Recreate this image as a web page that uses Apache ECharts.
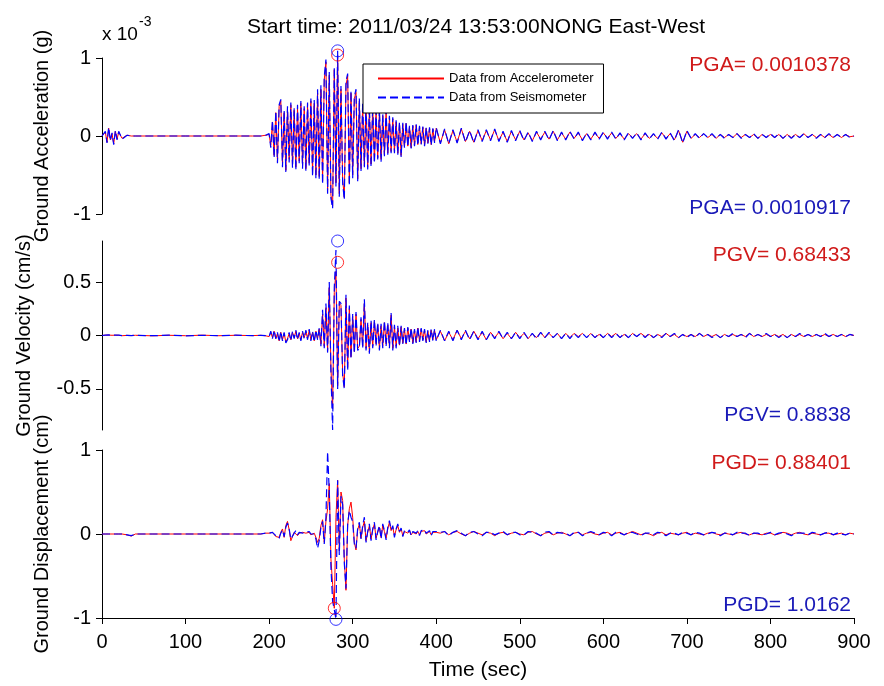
<!DOCTYPE html>
<html>
<head>
<meta charset="utf-8">
<title>NONG East-West</title>
<script src="https://cdn.jsdelivr.net/npm/echarts@6.0.0/dist/echarts.min.js"></script>
<style>
  html, body { margin: 0; padding: 0; background: #fff; }
  #root { width: 884px; height: 686px; }
</style>
</head>
<body>
<div id="root"></div>
<script>
(function () {
  const FONT = '"Liberation Sans", Arial, sans-serif';
  const RED = '#ff0000';
  const BLUE = '#0000ff';

  // sample times (s): sparse before the arrival, 2 s through the strong motion, 5 s in the coda
  function steps(from, to, dt) {
    const out = [];
    for (let t = from; t <= to; t += dt) out.push(t);
    return out;
  }
  const tHead = [0, 4, 6, 8, 10, 12, 14, 16, 18, 20, 24, 30, 35, 40, 60, 80, 100, 120, 140, 160, 180, 190, 196];
  const times = tHead.concat(steps(200, 400, 2), steps(405, 900, 5));

  // acceleration, x 10^-3 g
  const accAccel = [
    0, 0.05, -0.08, 0.1, -0.05, 0.03, -0.1, 0.06, -0.04, 0.05, -0.03, 0.01, 0, 0, 0, 0, 0, 0, 0, 0, 0, 0, 0.01,
    0.02, -0.12, 0.18, -0.25, 0.3, -0.32, 0.38, 0.45, -0.36, 0.3,
    -0.44, 0.35, -0.3, 0.4, -0.38, 0.33, -0.4, 0.36, -0.32, 0.42,
    -0.38, 0.35, -0.42, 0.4, -0.35, 0.45, -0.48, 0.42, -0.5, 0.55,
    -0.52, 0.6, -0.58, 0.72, 0.95, -0.7, 0.78, -0.76, -0.9, 0.85,
    -0.6, 1.0378, -0.74, 0.6, -0.55, -0.79, 0.65, 0.77, -0.6, 0.55,
    -0.5, 0.48, 0.56, -0.55, 0.45, -0.42, 0.4, -0.38, 0.42, -0.4,
    0.35, -0.36, 0.38, -0.32, 0.3, -0.28, 0.32, -0.3, 0.26, -0.24,
    0.3, -0.22, 0.24, -0.2, 0.22, -0.2, 0.18, -0.22, 0.16, -0.25,
    0.15, -0.14, 0.16, -0.13, 0.12, -0.15, 0.13, -0.12, 0.14, -0.11,
    0.12, -0.1, 0.11, -0.12, 0.1, -0.09, 0.1, -0.11, 0.09, -0.08,
    0.1,
    -0.09, 0.08, -0.1, 0.07, -0.08, 0.09, -0.07, 0.06, -0.08, 0.07,
    -0.06, 0.07, -0.05, 0.08, -0.06, 0.05, -0.07, 0.06, -0.05, 0.06,
    -0.05, 0.04, -0.06, 0.05, -0.04, 0.05, -0.04, 0.06, -0.05, 0.04,
    -0.04, 0.05, -0.03, 0.04, -0.05, 0.03, -0.04, 0.04, -0.03, 0.04,
    -0.03, 0.04, -0.03, 0.03, -0.04, 0.03, -0.02, 0.03, -0.04, 0.03,
    -0.03, 0.02, -0.03, 0.04, -0.03, 0.03, -0.05, 0.07, -0.08, 0.06,
    -0.03, 0.02, -0.02, 0.03, -0.02, 0.02, -0.03, 0.02, -0.02, 0.02,
    -0.02, 0.03, -0.02, 0.02, -0.02, 0.02, -0.03, 0.02, -0.02, 0.02,
    -0.02, 0.02, -0.03, 0.02, -0.02, 0.02, -0.02, 0.03, -0.02, 0.02,
    -0.02, 0.02, -0.02, 0.02, -0.02, 0.02, -0.02, 0.02, -0.01, 0
  ];
  const accSeis = [
    0, 0.06, -0.09, 0.11, -0.06, 0.04, -0.11, 0.07, -0.05, 0.06, -0.04, 0.01, 0, 0, 0, 0, 0, 0, 0, 0, 0, 0, 0.01,
    0.03, -0.15, 0.2, -0.28, 0.32, -0.35, 0.4, 0.47, -0.4, 0.33,
    -0.46, 0.38, -0.34, 0.43, -0.41, 0.36, -0.44, 0.4, -0.35, 0.45,
    -0.42, 0.38, -0.45, 0.43, -0.38, 0.48, -0.52, 0.46, -0.55, 0.6,
    -0.56, 0.65, -0.62, 0.76, 0.98, -0.74, 0.82, -0.8, -0.93, 0.88,
    -0.65, 1.0917, -0.78, 0.64, -0.6, -0.82, 0.7, 0.8, -0.64, 0.58,
    -0.54, 0.5, 0.6, -0.58, 0.48, -0.45, 0.43, -0.4, 0.45, -0.43,
    0.38, -0.4, 0.4, -0.35, 0.33, -0.3, 0.35, -0.33, 0.28, -0.26,
    0.33, -0.24, 0.26, -0.22, 0.24, -0.22, 0.2, -0.24, 0.18, -0.27,
    0.17, -0.15, 0.18, -0.14, 0.13, -0.16, 0.14, -0.13, 0.15, -0.12,
    0.13, -0.11, 0.12, -0.13, 0.11, -0.1, 0.11, -0.12, 0.1, -0.09,
    0.11,
    -0.1, 0.09, -0.1, 0.08, -0.09, 0.1, -0.08, 0.07, -0.09, 0.08,
    -0.07, 0.08, -0.06, 0.09, -0.07, 0.06, -0.08, 0.07, -0.06, 0.07,
    -0.06, 0.05, -0.07, 0.06, -0.05, 0.06, -0.05, 0.07, -0.06, 0.05,
    -0.05, 0.06, -0.04, 0.05, -0.06, 0.04, -0.05, 0.05, -0.04, 0.05,
    -0.04, 0.05, -0.04, 0.04, -0.05, 0.04, -0.03, 0.04, -0.05, 0.04,
    -0.04, 0.03, -0.04, 0.05, -0.04, 0.04, -0.06, 0.08, -0.09, 0.07,
    -0.03, 0.03, -0.03, 0.03, -0.02, 0.03, -0.03, 0.02, -0.03, 0.02,
    -0.02, 0.03, -0.03, 0.02, -0.02, 0.03, -0.03, 0.02, -0.02, 0.03,
    -0.02, 0.03, -0.03, 0.02, -0.03, 0.02, -0.02, 0.03, -0.02, 0.02,
    -0.03, 0.02, -0.02, 0.03, -0.02, 0.02, -0.02, 0.02, -0.02, 0
  ];

  // velocity, cm/s
  const velAccel = [
    0, 0.003, -0.004, 0.004, -0.003, 0.002, -0.004, 0.003, -0.002, 0.002, -0.002, 0.001, 0, 0.002, -0.003, 0.002, -0.002, 0.003, -0.002, 0.002, -0.001, 0.002, -0.003,
    -0.01, 0.03, -0.02, 0.04, -0.03, 0.02, -0.05, 0.03, -0.04, 0.02,
    -0.06, -0.03, 0.02, -0.04, 0.03, -0.02, 0.04, -0.03, 0.02, -0.04,
    0.03, -0.02, 0.04, -0.03, 0.05, -0.04, 0.03, -0.05, 0.04, -0.03,
    0.06, -0.08, 0.2, -0.1, 0.26, -0.14, 0.45, -0.3, -0.68433, 0.4,
    0.6, -0.47, 0.3, 0.28, -0.35, -0.48, 0.35, -0.3, 0.25, -0.2,
    0.18, -0.15, 0.2, -0.12, -0.1, 0.15, -0.1, 0.3, -0.12, 0.1,
    -0.15, 0.12, -0.1, 0.13, -0.08, 0.1, -0.12, 0.09, -0.1, 0.12,
    -0.08, 0.1, -0.1, 0.19, -0.12, 0.08, -0.1, 0.07, -0.09, 0.08,
    -0.07, 0.06, -0.08, 0.07, -0.05, 0.06, -0.07, 0.05, -0.06, 0.07,
    -0.05, 0.06, -0.04, 0.05, -0.06, 0.04, -0.05, 0.05, -0.04, 0.05,
    -0.04,
    0.04, -0.05, 0.03, -0.04, 0.05, -0.03, 0.04, -0.03, 0.04, -0.03,
    0.03, -0.04, 0.03, -0.02, 0.03, -0.03, 0.02, -0.03, 0.03, -0.02,
    0.02, -0.03, 0.02, -0.02, 0.03, -0.02, 0.02, -0.02, 0.02, -0.03,
    0.02, -0.02, 0.02, -0.01, 0.02, -0.02, 0.02, -0.02, 0.01, -0.02,
    0.02, -0.01, 0.02, -0.02, 0.01, -0.02, 0.02, -0.01, 0.02, -0.01,
    0.01, -0.02, 0.01, -0.01, 0.02, -0.01, 0.01, -0.02, 0.01, -0.01,
    0.01, -0.01, 0.02, -0.01, 0.01, -0.01, 0.01, -0.02, 0.01, -0.01,
    0.01, -0.01, 0.01, -0.01, 0.02, -0.01, 0.01, -0.01, 0.01, -0.01,
    0.01, -0.01, 0.01, -0.02, 0.01, -0.01, 0.01, -0.01, 0.01, -0.01,
    0.01, -0.01, 0.01, -0.01, 0.01, -0.01, 0.01, -0.01, 0.01, 0
  ];
  const velSeis = [
    0, 0.004, -0.003, 0.005, -0.004, 0.003, -0.003, 0.004, -0.003, 0.003, -0.002, 0.002, -0.001, 0.002, -0.002, 0.003, -0.003, 0.002, -0.002, 0.003, -0.002, 0.001, -0.002,
    -0.01, 0.04, -0.03, 0.05, -0.03, 0.03, -0.06, 0.04, -0.05, 0.03,
    -0.07, -0.04, 0.03, -0.05, 0.04, -0.03, 0.05, -0.04, 0.03, -0.05,
    0.04, -0.03, 0.05, -0.04, 0.06, -0.05, 0.04, -0.06, 0.05, -0.04,
    0.07, -0.1, 0.24, -0.12, 0.3, -0.16, 0.5, -0.35, -0.8838, 0.45,
    0.8, -0.5, 0.32, 0.3, -0.38, -0.5, 0.38, -0.33, 0.28, -0.22,
    0.2, -0.17, 0.22, -0.14, -0.12, 0.17, -0.12, 0.34, -0.14, 0.12,
    -0.17, 0.14, -0.12, 0.15, -0.1, 0.12, -0.14, 0.11, -0.12, 0.14,
    -0.1, 0.12, -0.12, 0.21, -0.14, 0.1, -0.12, 0.09, -0.1, 0.09,
    -0.08, 0.07, -0.09, 0.08, -0.06, 0.07, -0.08, 0.06, -0.07, 0.08,
    -0.06, 0.07, -0.05, 0.06, -0.07, 0.05, -0.06, 0.06, -0.05, 0.06,
    -0.05,
    0.05, -0.05, 0.04, -0.05, 0.05, -0.04, 0.05, -0.04, 0.04, -0.04,
    0.04, -0.04, 0.03, -0.03, 0.04, -0.03, 0.03, -0.03, 0.03, -0.03,
    0.03, -0.03, 0.02, -0.03, 0.03, -0.02, 0.03, -0.02, 0.02, -0.03,
    0.02, -0.03, 0.02, -0.02, 0.02, -0.02, 0.02, -0.02, 0.02, -0.02,
    0.02, -0.02, 0.02, -0.02, 0.02, -0.02, 0.02, -0.01, 0.02, -0.02,
    0.02, -0.02, 0.01, -0.02, 0.02, -0.01, 0.02, -0.02, 0.01, -0.02,
    0.01, -0.02, 0.02, -0.01, 0.01, -0.02, 0.01, -0.02, 0.01, -0.01,
    0.02, -0.01, 0.01, -0.02, 0.02, -0.01, 0.01, -0.01, 0.02, -0.01,
    0.01, -0.02, 0.01, -0.02, 0.01, -0.01, 0.02, -0.01, 0.01, -0.01,
    0.01, -0.01, 0.02, -0.01, 0.01, -0.01, 0.01, -0.01, 0.01, 0
  ];

  // displacement, cm
  const dspAccel = [
    0, 0, 0, 0, 0, 0, 0, 0, 0, 0, 0, -0.01, -0.025, 0, 0, 0, 0, 0, 0, 0, 0, 0, 0.01,
    0.01, -0.01, 0.02, 0, -0.03, -0.05, -0.04, 0.02, 0.06, -0.04,
    0.1, 0.15, 0.05, -0.08, -0.1, 0.02, 0.03, -0.02, 0.01, 0.03,
    0.02, 0.04, 0.01, 0.03, 0.02, -0.01, -0.03, 0.01, -0.04, -0.1,
    -0.05, 0.1, 0.17, -0.1, 0.15, 0.3, 0.6, -0.3, -0.6, -0.88401,
    0.2, 0.64, -0.2, 0.5, 0.4, -0.3, -0.67, 0.1, 0.3, 0.38,
    0.2, -0.1, -0.19, 0.05, 0.12, -0.05, 0.08, 0.15, -0.08, 0.02,
    0.1, -0.06, 0.05, 0.12, -0.05, 0.02, 0.08, -0.04, 0.1, 0.03,
    -0.05, 0.06, 0.14, 0.04, 0.08, -0.02, 0.05, 0.1, 0.02, 0.06,
    -0.02, 0.03, 0.05, 0.01, 0.04, -0.01, 0.02, 0.04, 0, 0.03,
    -0.01, 0.03, 0.02, 0.04, 0, 0.02, 0.03, -0.01, 0.02, 0.01,
    0.02,
    0.01, 0.03, -0.01, 0.02, 0.03, 0, -0.02, 0.01, 0.03, 0.01,
    -0.01, 0.02, 0.01, -0.02, 0.01, 0.02, -0.01, 0.01, 0.02, 0,
    -0.01, 0.02, 0.03, 0, -0.02, 0.01, 0.02, -0.01, 0.01, 0.02,
    0, -0.02, 0.01, 0.02, -0.01, 0.01, 0.02, 0, -0.01, 0.01,
    0.02, -0.01, 0.01, 0.02, -0.01, 0.01, 0.03, 0.01, -0.01, 0.01,
    0, -0.02, 0.01, 0.02, -0.01, 0.01, 0, -0.01, 0.01, 0.02,
    -0.01, 0.01, 0, -0.01, 0.01, 0.02, 0, -0.01, 0.01, 0,
    -0.01, 0.01, 0.02, 0, -0.01, 0.01, 0, -0.01, 0.01, 0.01,
    -0.01, 0, 0.02, 0.01, -0.01, 0.01, 0.02, 0, -0.01, 0.01,
    0, -0.01, 0.01, 0.01, -0.01, 0, 0.01, -0.01, 0.01, 0
  ];
  const dspSeis = [
    0, 0, 0, 0, 0, 0, 0, 0, 0, 0, 0, -0.01, -0.02, 0, 0, 0, 0, 0, 0, 0, 0, 0, 0.01,
    0.01, -0.01, 0.02, 0.01, -0.02, -0.04, -0.05, 0.01, 0.05, -0.03,
    0.08, 0.13, 0.06, -0.06, -0.08, 0.01, 0.04, -0.01, 0.02, 0.03,
    0.01, 0.03, 0.02, 0.02, 0.03, 0, -0.02, 0, -0.06, -0.17,
    -0.08, 0.08, 0.15, -0.12, 0.2, 0.98, 0.5, -0.4, -0.8, -0.9,
    -1.0162, 0.64, -0.25, 0.45, 0.35, -0.35, -0.65, 0.12, 0.28, 0.2,
    0.15, -0.12, -0.17, 0.07, 0.14, -0.06, 0.1, 0.2, -0.1, 0.03,
    0.12, -0.08, 0.06, 0.14, -0.07, 0.03, 0.1, -0.06, 0.12, 0.04,
    -0.07, 0.08, 0.16, 0.05, 0.1, -0.04, 0.06, 0.12, 0.03, 0.07,
    -0.03, 0.04, 0.06, 0.02, 0.05, -0.02, 0.03, 0.05, 0.01, 0.04,
    -0.02, 0.04, 0.02, 0.05, 0.01, 0.03, 0.04, -0.02, 0.03, 0.01,
    0.03,
    0.02, 0.03, -0.02, 0.02, 0.04, 0.01, -0.02, 0.02, 0.03, 0,
    -0.02, 0.02, 0.02, -0.01, 0.01, 0.03, -0.01, 0.02, 0.02, -0.01,
    -0.01, 0.03, 0.02, 0.01, -0.02, 0.02, 0.03, -0.01, 0.02, 0.01,
    0.01, -0.02, 0.02, 0.02, -0.02, 0.01, 0.03, 0.01, -0.01, 0.02,
    0.01, -0.02, 0.02, 0.01, -0.01, 0.02, 0.02, 0, -0.02, 0.01,
    0.01, -0.01, 0.02, 0.01, -0.02, 0.01, 0.01, -0.01, 0.02, 0.01,
    -0.01, 0.02, 0.01, -0.01, 0, 0.02, 0.01, -0.02, 0.01, 0.01,
    -0.01, 0.02, 0.01, 0.01, -0.02, 0.01, 0.01, -0.01, 0, 0.02,
    -0.01, 0.01, 0.02, 0, -0.02, 0.01, 0.01, 0.01, -0.01, 0.02,
    0.01, -0.01, 0.01, 0.02, -0.01, 0.01, 0, -0.01, 0.01, 0
  ];

  // peaks: [time (s), marker value] for accelerometer / seismometer, per panel
  const peakNames = ['PGA', 'PGV', 'PGD'];
  const peakAccel = [[282, 1.0378], [282, 0.68433], [278, -0.88401]];
  const peakSeis = [[282, 1.0917], [282, 0.8838], [280, -1.0162]];
  const peakTextAccel = ['0.0010378', '0.68433', '0.88401'];
  const peakTextSeis = ['0.0010917', '0.8838', '1.0162'];

  const xTicks = [0, 900, 100];
  const yNames = ['Ground Acceleration (g)', 'Ground Velocity (cm/s)', 'Ground Displacement (cm)'];
  const velTicks = [-0.5, 0, 0.5];
  const legendNames = ['Data from Accelerometer', 'Data from Seismometer'];

  const panels = [
    { top: 58, height: 156, accel: accAccel, seis: accSeis, yMin: -1, yMax: 1, nameGap: 50 },
    { top: 241, height: 189, accel: velAccel, seis: velSeis, yMin: -0.8838, yMax: 0.8838, nameGap: 68 },
    { top: 450, height: 168, accel: dspAccel, seis: dspSeis, yMin: -1, yMax: 1, nameGap: 50 }
  ];
  // where each panel's PG* texts sit (accelerometer above, seismometer below)
  const noteY = [[65, 208], [255, 415], [463, 605]];

  function pairs(vals) {
    return times.map((t, i) => [t, vals[i]]);
  }

  const grid = [];
  const xAxis = [];
  const yAxis = [];
  const series = [];
  const graphic = [];

  panels.forEach((p, i) => {
    const last = i === panels.length - 1;
    grid.push({ left: 102, right: 30, top: p.top, height: p.height });
    xAxis.push({
      gridIndex: i,
      type: 'value',
      min: xTicks[0], max: xTicks[1], interval: xTicks[2],
      show: last,
      axisLine: { onZero: false, lineStyle: { color: '#000', width: 1 } },
      axisTick: { inside: false, length: 6, lineStyle: { color: '#000' } },
      axisLabel: { color: '#000', fontSize: 20, fontFamily: FONT, margin: 14 },
      splitLine: { show: false },
      name: last ? 'Time (sec)' : '',
      nameLocation: 'middle',
      nameGap: 42,
      nameTextStyle: { color: '#000', fontSize: 21, fontFamily: FONT }
    });
    const y = {
      gridIndex: i,
      type: 'value',
      min: p.yMin, max: p.yMax,
      axisLine: { show: true, onZero: false, lineStyle: { color: '#000', width: 1 } },
      axisTick: { show: true, inside: false, length: 6, lineStyle: { color: '#000' } },
      axisLabel: { color: '#000', fontSize: 20, fontFamily: FONT, margin: 11 },
      splitLine: { show: false },
      name: yNames[i],
      nameLocation: 'middle',
      nameGap: p.nameGap,
      nameTextStyle: { color: '#000', fontSize: 20, fontFamily: FONT }
    };
    if (i === 1) {
      y.axisLabel.customValues = velTicks;
      y.axisTick.customValues = velTicks;
    } else {
      y.interval = 1;
    }
    yAxis.push(y);

    series.push({
      name: legendNames[0], type: 'line', xAxisIndex: i, yAxisIndex: i,
      data: pairs(p.accel), symbol: 'none', showSymbol: false, clip: false,
      lineStyle: { color: RED, width: 1 }, itemStyle: { color: RED }
    });
    series.push({
      name: legendNames[1], type: 'line', xAxisIndex: i, yAxisIndex: i,
      data: pairs(p.seis), symbol: 'none', showSymbol: false, clip: false,
      lineStyle: { color: BLUE, width: 1.2, type: [8, 4] }, itemStyle: { color: BLUE }
    });
    [[peakAccel[i], RED], [peakSeis[i], BLUE]].forEach(([pt, c]) => {
      series.push({
        name: 'peak', type: 'scatter', xAxisIndex: i, yAxisIndex: i,
        data: [pt], symbol: 'circle', symbolSize: 12, clip: false, z: 5,
        itemStyle: { color: 'rgba(0,0,0,0)', borderColor: c, borderWidth: 1 }
      });
    });

    graphic.push({
      type: 'text', x: 851, y: noteY[i][0],
      style: { text: peakNames[i] + '= ' + peakTextAccel[i], fill: '#d01a1a', fontSize: 21, fontFamily: FONT, align: 'right', verticalAlign: 'middle' }
    });
    graphic.push({
      type: 'text', x: 851, y: noteY[i][1],
      style: { text: peakNames[i] + '= ' + peakTextSeis[i], fill: '#1a1ab8', fontSize: 21, fontFamily: FONT, align: 'right', verticalAlign: 'middle' }
    });
  });

  graphic.push({
    type: 'text', x: 476, y: 27,
    style: { text: 'Start time: 2011/03/24 13:53:00NONG East-West', fill: '#000', fontSize: 21, fontFamily: FONT, align: 'center', verticalAlign: 'middle' }
  });
  graphic.push({
    type: 'text', x: 102, y: 35,
    style: { text: 'x 10', fill: '#000', fontSize: 19, fontFamily: FONT, align: 'left', verticalAlign: 'middle' }
  });
  graphic.push({
    type: 'text', x: 139, y: 22,
    style: { text: '-3', fill: '#000', fontSize: 14, fontFamily: FONT, align: 'left', verticalAlign: 'middle' }
  });

  const option = {
    backgroundColor: '#fff',
    animation: false,
    legend: {
      data: legendNames,
      orient: 'vertical',
      left: 363, top: 64,
      padding: [8, 10, 9, 14],
      itemWidth: 66, itemHeight: 14, itemGap: 6,
      backgroundColor: '#fff',
      borderColor: '#000', borderWidth: 1,
      itemStyle: { opacity: 0 },
      textStyle: { color: '#000', fontSize: 13, fontFamily: FONT },
      selectedMode: false
    },
    grid, xAxis, yAxis, series, graphic
  };

  const chart = echarts.init(document.getElementById('root'), null, { renderer: 'canvas' });
  chart.setOption(option);
})();
</script>
</body>
</html>
